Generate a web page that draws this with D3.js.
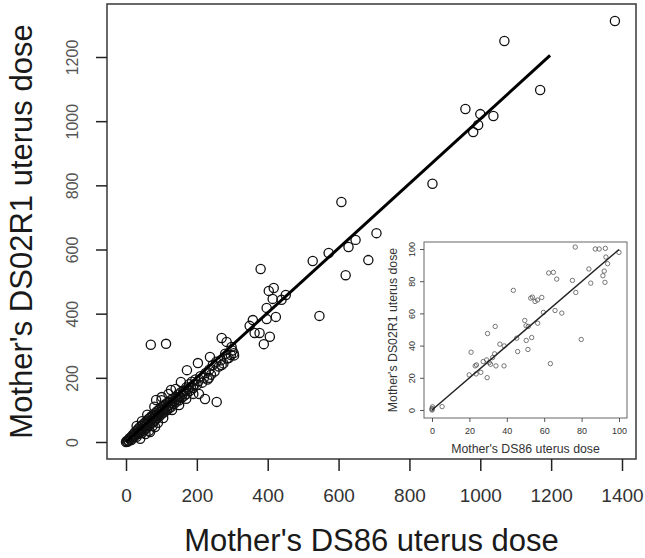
<!DOCTYPE html>
<html>
<head>
<meta charset="utf-8">
<script src="https://cdn.jsdelivr.net/npm/d3@7"></script>
<style>
  body { margin: 0; background: #fff; }
  svg { font-family: "Liberation Sans", Arial, sans-serif; }
</style>
</head>
<body>
<svg id="chart" width="645" height="558"></svg>
<script>
// main plot: DS86 (x) vs DS02R1 (y) mother's uterus dose
var mainX = [
  1380, 1068, 1169, 958, 1000, 1037, 994, 980, 865,
  608, 707, 648, 628, 572, 527, 684, 620, 546,
  380, 417, 403, 414, 451, 439, 397, 358, 397, 423, 363, 377, 406, 389, 349,
  70, 113, 256, 223, 206, 270, 284, 298, 296, 304, 290, 237, 203, 270, 234, 172, 155, 127, 101, 85, 82, 68,
  0, 2, 4, 6, 8, 10, 12, 14, 15, 18, 20, 22, 24, 25, 27, 30, 30, 32, 34, 35, 37, 38, 40, 42, 44, 45, 47, 48,
  50, 52, 53, 55, 56, 58, 60, 60, 62, 64, 65, 67, 68, 70, 72, 74, 75, 77, 78, 80, 82, 84, 85, 87, 88, 90,
  92, 94, 95, 97, 98, 100, 102, 104, 105, 108, 110, 112, 114, 116, 118, 120, 122, 124, 126, 128, 130, 132,
  135, 137, 140, 142, 145, 147, 150, 152, 155, 157, 160, 162, 165, 168, 170, 172, 175, 178, 180, 183, 186,
  190, 193, 196, 200, 205, 210, 215, 220, 225, 230, 235, 240, 245, 250, 255, 262, 268, 275, 280, 285, 300, 305,
  40, 55, 65, 75, 90, 105, 130, 150, 170, 190, 30, 45, 60, 80, 100, 120, 140
];
var mainY = [
  1312, 1250, 1097, 1038, 1022, 1016, 988, 966, 805,
  748, 651, 630, 608, 589, 564, 567, 520, 393,
  539, 480, 471, 446, 458, 443, 418, 380, 383, 390, 340, 340, 328, 305, 362,
  303, 306, 125, 134, 150, 324, 312, 296, 271, 277, 262, 265, 246, 240, 200, 224, 187, 162, 140, 131, 47, 31,
  0, 3, 1, 5, 4, 12, 8, 15, 6, 20, 14, 25, 18, 30, 22, 35, 16, 28, 40, 25, 33, 45, 30, 38, 50, 28, 42, 55,
  36, 47, 60, 40, 52, 65, 45, 58, 70, 50, 62, 75, 55, 66, 80, 60, 72, 85, 64, 76, 90, 70, 82, 95, 75, 86,
  100, 80, 92, 105, 85, 96, 110, 90, 100, 115, 95, 106, 120, 100, 112, 125, 105, 116, 130, 110, 122, 135,
  118, 128, 140, 125, 135, 148, 130, 142, 155, 138, 150, 160, 145, 158, 170, 150, 165, 180, 160, 172, 188,
  168, 180, 195, 178, 190, 205, 185, 200, 215, 195, 225, 210, 240, 220, 250, 235, 255, 245, 275, 260, 285, 270,
  10, 25, 35, 50, 60, 75, 100, 115, 135, 150, 50, 65, 85, 110, 130, 150, 165
];
var mainXTicks = [0, 200, 400, 600, 800, 1000, 1200, 1400];
var mainYTicks = [0, 200, 400, 600, 800, 1000, 1200];
var mainFit = [[0, 0], [1197, 1205]];

// inset: the same doses restricted to 0-100
var insetX = [
  76.6, 87.3, 89.4, 92.7, 93.0, 100, 93.9, 83.9, 92.1, 91.4, 92.5, 84.9,
  62.4, 64.9, 66.7, 75.1, 76.9, 43.5, 53.7, 52.8, 55.1, 56.4, 58.7, 59.6, 65.8, 69.4,
  49.6, 50.3, 51.5, 56.5, 33.8, 29.7, 45.3, 50.4, 53.3, 79.8, 36.3, 38.6, 45.8, 51.3,
  20.9, 33.5, 32.4, 29.2, 27.4, 30.6, 23.1, 23.8, 34.2, 38.5, 31.3, 19.9, 23.6, 26.1, 29.5,
  63.3, 5.4, 0, 0, 0.3, 0.1
];
var insetY = [
  101.2, 100, 100, 100.4, 95.0, 97.9, 90.9, 87.6, 86.3, 83.4, 79.3, 78.8,
  85.1, 85.5, 81.3, 80.5, 73.0, 74.3, 70.1, 69.5, 67.4, 68.3, 69.9, 60.6, 61.8, 60.2,
  55.6, 52.3, 51.9, 53.9, 51.9, 47.5, 44.6, 43.2, 45.0, 43.8, 40.9, 39.8, 36.3, 37.6,
  35.9, 34.9, 32.6, 31.1, 30.1, 29.5, 27.4, 28.0, 27.4, 27.4, 28.4, 21.8, 22.4, 23.4, 20.1,
  28.8, 2.1, 0, 1, 2, 0.5
];
var insetTicks = [0, 20, 40, 60, 80, 100];
var insetFit = [[0, 0], [100, 99.7]];

var svg = d3.select("#chart");
var fmt = d3.format("d");

// ---------- main plot ----------
var x = d3.scaleLinear().domain([0, 1400]).range([126, 622]);
var y = d3.scaleLinear().domain([0, 1200]).range([442, 57]);
var box = { left: 107, top: 4, right: 636, bottom: 459 };

svg.append("rect")
    .attr("x", box.left).attr("y", box.top)
    .attr("width", box.right - box.left).attr("height", box.bottom - box.top)
    .attr("fill", "none").attr("stroke", "#444").attr("stroke-width", 1.6);

// x axis
var xAxis = svg.append("g")
    .attr("transform", "translate(0," + box.bottom + ")")
    .call(d3.axisBottom(x).tickValues(mainXTicks).tickFormat(fmt)
        .tickSize(12).tickPadding(18).tickSizeOuter(0));
xAxis.select(".domain").remove();
xAxis.selectAll("line").attr("stroke", "#222").attr("stroke-width", 1.5);
xAxis.selectAll("text")
    .attr("font-family", "Liberation Sans, Arial, sans-serif")
    .attr("font-size", 19).attr("fill", "#333");

// y axis
var yAxis = svg.append("g")
    .attr("transform", "translate(" + box.left + ",0)")
    .call(d3.axisLeft(y).tickValues(mainYTicks).tickFormat(fmt)
        .tickSize(11).tickSizeOuter(0));
yAxis.select(".domain").remove();
yAxis.selectAll("line").attr("stroke", "#222").attr("stroke-width", 1.5);
yAxis.selectAll("text")
    .attr("font-family", "Liberation Sans, Arial, sans-serif")
    .attr("font-size", 16).attr("fill", "#555")
    .attr("text-anchor", "middle")
    .attr("dy", 0)
    .attr("x", 0)
    .attr("transform", "translate(-29,0) rotate(-90)");

// titles
svg.append("text")
    .attr("x", (box.left + box.right) / 2).attr("y", 551)
    .attr("text-anchor", "middle").attr("font-size", 31).attr("fill", "#1a1a1a")
    .text("Mother's DS86 uterus dose");
svg.append("text")
    .attr("transform", "translate(32," + (box.top + box.bottom) / 2 + ") rotate(-90)")
    .attr("text-anchor", "middle").attr("font-size", 31).attr("fill", "#1a1a1a")
    .text("Mother's DS02R1 uterus dose");

// points
svg.append("g").selectAll("circle")
    .data(mainX.map(function(d, i) { return [d, mainY[i]]; }))
  .enter().append("circle")
    .attr("cx", function(d) { return x(d[0]); })
    .attr("cy", function(d) { return y(d[1]); })
    .attr("r", 4.6)
    .attr("fill", "none").attr("stroke", "#111").attr("stroke-width", 1.3);

// fit line
svg.append("path")
    .datum(mainFit)
    .attr("d", d3.line().x(function(d) { return x(d[0]); }).y(function(d) { return y(d[1]); }))
    .attr("stroke", "#000").attr("stroke-width", 3).attr("fill", "none");

// ---------- inset ----------
var ix = d3.scaleLinear().domain([0, 100]).range([432, 619]);
var iy = d3.scaleLinear().domain([0, 100]).range([410, 249]);
var ibox = { left: 424, top: 242, right: 627, bottom: 418 };

svg.append("rect")
    .attr("x", ibox.left).attr("y", ibox.top)
    .attr("width", ibox.right - ibox.left).attr("height", ibox.bottom - ibox.top)
    .attr("fill", "#fff").attr("stroke", "#666").attr("stroke-width", 1);

var ixAxis = svg.append("g")
    .attr("transform", "translate(0," + ibox.bottom + ")")
    .call(d3.axisBottom(ix).tickValues(insetTicks).tickSize(4).tickPadding(6).tickSizeOuter(0));
ixAxis.select(".domain").remove();
ixAxis.selectAll("line").attr("stroke", "#555");
ixAxis.selectAll("text").attr("font-size", 9).attr("fill", "#333");

var iyAxis = svg.append("g")
    .attr("transform", "translate(" + ibox.left + ",0)")
    .call(d3.axisLeft(iy).tickValues(insetTicks).tickSize(4).tickSizeOuter(0));
iyAxis.select(".domain").remove();
iyAxis.selectAll("line").attr("stroke", "#555");
iyAxis.selectAll("text")
    .attr("font-size", 9).attr("fill", "#333")
    .attr("text-anchor", "middle").attr("dy", 0).attr("x", 0)
    .attr("transform", "translate(-9,0) rotate(-90)");

svg.append("text")
    .attr("x", (ibox.left + ibox.right) / 2).attr("y", 453)
    .attr("text-anchor", "middle").attr("font-size", 12.3).attr("fill", "#333")
    .text("Mother's DS86 uterus dose");
svg.append("text")
    .attr("transform", "translate(397," + (ibox.top + ibox.bottom) / 2 + ") rotate(-90)")
    .attr("text-anchor", "middle").attr("font-size", 12.3).attr("fill", "#333")
    .text("Mother's DS02R1 uterus dose");

svg.append("g").selectAll("circle")
    .data(insetX.map(function(d, i) { return [d, insetY[i]]; }))
  .enter().append("circle")
    .attr("cx", function(d) { return ix(d[0]); })
    .attr("cy", function(d) { return iy(d[1]); })
    .attr("r", 2.2)
    .attr("fill", "none").attr("stroke", "#555").attr("stroke-width", 0.8);

svg.append("path")
    .datum(insetFit)
    .attr("d", d3.line().x(function(d) { return ix(d[0]); }).y(function(d) { return iy(d[1]); }))
    .attr("stroke", "#222").attr("stroke-width", 1.4).attr("fill", "none");
</script>
</body>
</html>
